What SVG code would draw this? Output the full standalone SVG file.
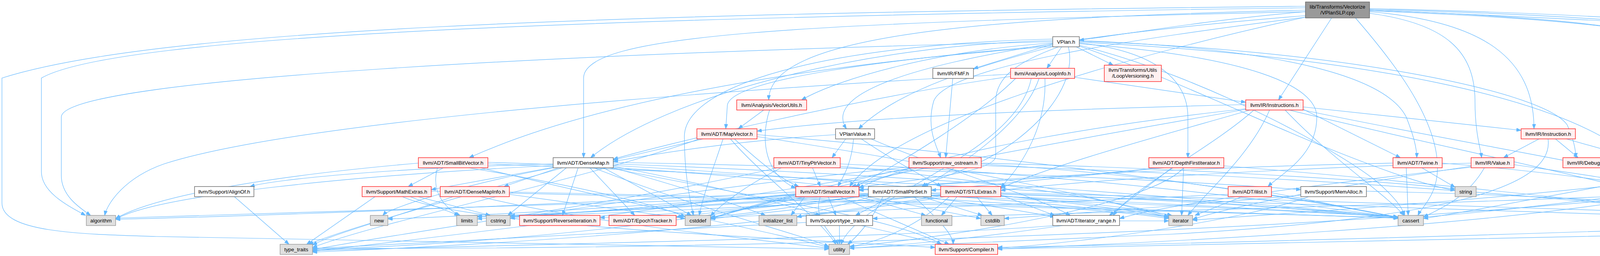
<svg xmlns="http://www.w3.org/2000/svg" width="5147" height="656" viewBox="0 0 5147 656">
<style>
.e path{fill:none;stroke:#63b8ff;stroke-width:1.2}
.n rect{stroke-width:1.4}
.r rect{fill:#fff0f0;stroke:#ff2020}
.w rect{fill:#ffffff;stroke:#666666}
.g rect{fill:#e0e0e0;stroke:#999999}
.k rect{fill:#999999;stroke:#666666}
.n text{font-family:"Liberation Sans",Arial,Helvetica,sans-serif;font-size:13.33px;fill:#000000;text-anchor:middle}
</style>
<defs>
<marker id="a" viewBox="0 0 12 9" refX="12" refY="4.5" markerWidth="12" markerHeight="9" markerUnits="userSpaceOnUse" orient="auto"><path d="M0,0 L12,4.5 L0,9 z" fill="#63b8ff" stroke="#63b8ff"/></marker>
</defs>
<rect width="5147" height="656" fill="#ffffff"/>
<g id="edges" class="e" marker-end="url(#a)">
<path d="M3342,30 C3100,50 2900,85 2763,103"/>
<path d="M3506,26 C4000,45 4600,80 4994,98"/>
<path d="M3409,46 L3273,256"/>
<path d="M3342,40 C2600,100 2080,200 2167,330"/>
<path d="M3342,30 C2000,60 1494,90 1494,200 L1494,404"/>
<path d="M3342,44 C2950,130 2300,300 2175,478"/>
<path d="M3342,26 C2500,45 1968,90 1968,256"/>
<path d="M3506,30 C3800,55 3927,150 3927,330"/>
<path d="M3506,34 C3700,60 3776,130 3776,260 C3776,340 3790,380 3793,404"/>
<path d="M3506,28 C4200,55 4529,100 4529,260 C4529,350 4538,385 4541,404"/>
<path d="M3506,26 C4300,55 4448,110 4448,260 L4448,400 C4448,440 4380,462 4345,478"/>
<path d="M3506,22 C4500,45 4955,100 4955,270 L4955,460 C4955,515 4850,540 4798,552"/>
<path d="M3506,24 C4400,48 4804,100 4804,270 L4804,460 C4804,515 4560,540 4488,552"/>
<path d="M3470,46 C3560,150 3680,300 3680,430 C3680,500 3640,530 3630,552"/>
<path d="M3342,44 C2900,100 2420,170 2390,260 C2370,330 2400,380 2408,404"/>
<path d="M3342,20 C1500,45 300,90 106,200 L106,440 C106,495 180,530 219,552"/>
<path d="M3342,16 C1500,35 400,75 5,200 L5,520 C5,595 200,600 400,606 C1200,625 1900,632 2122,638"/>
<path d="M2695,113 L2492,176"/>
<path d="M2718,120 L2680,175"/>
<path d="M2755,120 L2850,167"/>
<path d="M2700,118 C2500,170 2300,230 2198,330"/>
<path d="M2695,104 C2200,115 1700,250 1512,404"/>
<path d="M2763,110 C2950,130 3041,200 3041,300 L3041,404"/>
<path d="M2695,116 C2300,150 1870,200 1862,270 L1858,330"/>
<path d="M2695,119 C2000,170 1500,270 1201,404"/>
<path d="M2710,120 C2600,160 2549,200 2549,260 L2549,400 C2549,445 2300,465 2199,480"/>
<path d="M2735,120 C2760,220 2650,350 2500,420 C2420,455 2380,465 2360,478"/>
<path d="M2763,104 C3300,125 3550,200 3600,300 C3620,350 3627,380 3627,404"/>
<path d="M2763,112 C3200,145 3371,220 3371,300 C3371,400 3280,445 3246,478"/>
<path d="M2763,108 C3500,145 4000,250 4180,404"/>
<path d="M2763,106 C3400,125 3950,230 4012,320 C4030,360 4034,385 4034,404"/>
<path d="M2763,116 C3100,200 3450,400 3530,470 C3580,515 3590,535 3596,552"/>
<path d="M2695,100 C2100,115 1752,220 1752,350 C1752,460 1770,525 1775,552"/>
<path d="M2763,118 C3000,200 3200,300 3400,380 C3550,440 3650,475 3725,488"/>
<path d="M2695,110 C2400,130 2150,200 2052,256"/>
<path d="M2695,107 C1500,135 157,200 157,300 L157,450 C157,500 200,530 232,552"/>
<path d="M2751,198 L3189,262"/>
<path d="M2587,196 C2200,250 1700,370 1570,408"/>
<path d="M2660,201 C2620,320 2450,430 2364,478"/>
<path d="M2600,201 C2500,300 2300,420 2190,478"/>
<path d="M2675,201 C2680,320 2620,420 2562,480"/>
<path d="M2587,190 C1500,250 700,330 420,420 C320,455 275,520 268,552"/>
<path d="M2640,201 C2600,400 2200,500 2153,626"/>
<path d="M2439,201 L2421,404"/>
<path d="M1955,282 L1890,330"/>
<path d="M1970,282 C1945,360 1960,450 2037,482"/>
<path d="M3336,274 L3894,334"/>
<path d="M3189,268 C2700,280 2200,300 1938,336"/>
<path d="M3200,282 C3000,340 2700,420 2562,482"/>
<path d="M3195,278 C2900,310 2400,380 2199,482"/>
<path d="M3336,280 L3585,404"/>
<path d="M3210,282 C3100,380 2900,480 2850,552"/>
<path d="M3336,282 C3800,380 4400,470 4629,558"/>
<path d="M3290,282 C3400,400 3550,500 3594,552"/>
<path d="M3190,280 C2800,350 2200,450 1819,560"/>
<path d="M3250,282 C3200,400 3080,500 3041,552"/>
<path d="M3300,282 C3700,380 4300,500 4417,556"/>
<path d="M1800,356 L1570,410"/>
<path d="M1880,356 C1950,420 2000,460 2045,478"/>
<path d="M1938,345 C2600,400 3300,500 3579,558"/>
<path d="M1851,356 C1830,420 1800,500 1790,552"/>
<path d="M1938,350 C2400,420 2800,500 2992,558"/>
<path d="M1790,356 C1500,460 1000,560 800,634"/>
<path d="M1870,356 C1950,450 2100,560 2140,626"/>
<path d="M2139,345 C1900,360 1700,390 1570,414"/>
<path d="M2165,356 L2130,404"/>
<path d="M2185,356 C2180,420 2160,450 2145,478"/>
<path d="M2205,356 C2300,420 2380,460 2410,478"/>
<path d="M2230,356 C2400,430 2650,500 2740,552"/>
<path d="M3940,356 L3849,404"/>
<path d="M3982,356 L4040,404"/>
<path d="M4010,356 L4180,404"/>
<path d="M3963,356 C3980,480 3700,560 3000,600 C2600,620 2300,630 2175,636"/>
<path d="M1135,430 L1045,478"/>
<path d="M1249,416 C1800,430 2400,500 2700,556"/>
<path d="M1071,418 C700,450 400,500 296,560"/>
<path d="M1249,420 C2000,450 3000,500 3579,560"/>
<path d="M1200,430 C1500,480 1700,530 1754,556"/>
<path d="M1120,430 C1100,500 1150,540 1178,552"/>
<path d="M1230,430 C1600,520 2000,600 2122,634"/>
<path d="M1430,430 L1290,478"/>
<path d="M1510,430 L1625,552"/>
<path d="M1416,420 C1000,430 700,460 640,478"/>
<path d="M1560,430 C1900,500 2300,560 2410,626"/>
<path d="M1420,428 L1104,486"/>
<path d="M1570,416 C2300,430 3000,460 3330,486"/>
<path d="M1480,430 L1440,552"/>
<path d="M1570,426 C1800,470 2000,520 2100,552"/>
<path d="M1416,424 C900,450 400,500 296,562"/>
<path d="M1570,420 C2400,450 3200,520 3579,556"/>
<path d="M1545,430 L1770,552"/>
<path d="M1450,430 L1300,552"/>
<path d="M1570,430 C1750,480 1900,530 1960,552"/>
<path d="M1570,424 C2200,460 2800,520 2992,556"/>
<path d="M1416,430 C1200,470 1000,530 980,552"/>
<path d="M1440,430 C1200,500 900,580 790,626"/>
<path d="M1520,430 C1800,540 2050,600 2122,632"/>
<path d="M2080,430 L2100,478"/>
<path d="M2151,420 C2800,450 3300,520 3579,557"/>
<path d="M2000,430 C1900,480 1840,530 1819,554"/>
<path d="M2151,426 C2600,470 2900,520 2992,556"/>
<path d="M1990,430 C1600,520 1000,600 800,640"/>
<path d="M2350,430 L2180,478"/>
<path d="M2512,420 C3000,450 3400,520 3579,557"/>
<path d="M2330,430 C2100,480 1900,530 1819,562"/>
<path d="M2327,428 C1900,470 1500,530 1306,560"/>
<path d="M2512,424 C3500,460 4200,520 4417,561"/>
<path d="M2512,418 C3000,430 3500,460 3725,484"/>
<path d="M2340,430 C1800,530 1100,610 800,644"/>
<path d="M2980,430 L2384,488"/>
<path d="M2960,430 C2700,460 2400,470 2199,486"/>
<path d="M3000,430 L2840,552"/>
<path d="M3030,430 L3025,552"/>
<path d="M3133,425 C3700,470 4200,530 4417,553"/>
<path d="M3030,430 C2950,520 2500,600 2175,632"/>
<path d="M3566,418 C3000,430 2500,460 2199,488"/>
<path d="M3692,418 C4100,450 4500,520 4629,556"/>
<path d="M3600,430 L3605,552"/>
<path d="M3640,430 L3725,480"/>
<path d="M3766,418 C3300,430 2800,460 2562,488"/>
<path d="M3770,428 C3400,470 3000,520 2866,560"/>
<path d="M3876,422 C4000,440 4150,460 4220,478"/>
<path d="M3800,430 C3760,500 3700,530 3644,556"/>
<path d="M3766,426 C3400,480 3150,530 3053,562"/>
<path d="M4520,430 L4340,478"/>
<path d="M4601,420 C5000,500 4950,575 4700,592 C3800,612 2800,630 2554,638"/>
<path d="M4580,430 L4690,552"/>
<path d="M4495,418 C4200,450 3900,520 3644,560"/>
<path d="M4500,430 C4000,500 3400,540 3053,564"/>
<path d="M600,504 L740,626"/>
<path d="M1030,504 C1200,580 2000,610 2394,634"/>
<path d="M1104,490 C2000,510 3000,540 3579,558"/>
<path d="M1050,504 L1175,552"/>
<path d="M1070,504 L1255,552"/>
<path d="M960,504 L785,626"/>
<path d="M1304,492 C2200,510 3000,540 3579,559"/>
<path d="M1304,498 L1754,560"/>
<path d="M1160,504 C1000,560 850,600 800,628"/>
<path d="M1230,504 C1500,570 1900,610 2122,636"/>
<path d="M2150,504 L2430,626"/>
<path d="M2120,504 L2140,552"/>
<path d="M2037,492 C1500,520 800,550 296,562"/>
<path d="M2199,495 C2900,520 3400,545 3579,556"/>
<path d="M2037,500 L1819,558"/>
<path d="M2199,500 L2511,560"/>
<path d="M2037,496 C1800,520 1500,545 1306,556"/>
<path d="M2199,504 L2370,552"/>
<path d="M2060,504 L2025,552"/>
<path d="M2199,498 C2600,520 2900,545 2992,560"/>
<path d="M2037,498 C1700,530 1400,550 1222,561"/>
<path d="M2037,500 C1600,530 1200,555 993,561"/>
<path d="M2060,504 C1700,590 1100,630 800,640"/>
<path d="M2100,504 C2080,560 2130,600 2146,626"/>
<path d="M2223,500 C2000,530 1800,545 1731,556"/>
<path d="M2340,504 C2400,560 2440,600 2440,626"/>
<path d="M2223,502 C2000,530 1700,550 1536,558"/>
<path d="M2280,504 L2190,552"/>
<path d="M2384,496 C3000,520 3400,545 3579,556"/>
<path d="M2223,498 C2100,520 1950,545 1819,556"/>
<path d="M2360,504 L2515,552"/>
<path d="M2223,496 C1900,520 1500,545 1306,552"/>
<path d="M2230,504 L2040,556"/>
<path d="M2384,500 C2700,520 2900,545 2992,556"/>
<path d="M2223,500 C1800,530 1400,550 1222,554"/>
<path d="M2260,504 C2230,570 2190,610 2170,626"/>
<path d="M2562,500 L2700,552"/>
<path d="M2562,494 C3300,510 4200,540 4629,556"/>
<path d="M2408,494 C1600,520 800,545 296,559"/>
<path d="M2562,496 C3000,510 3400,540 3579,556"/>
<path d="M2408,498 C2200,520 1950,545 1819,561"/>
<path d="M2500,504 L2540,552"/>
<path d="M2450,504 L2410,552"/>
<path d="M2408,502 C2300,520 2150,540 2040,556"/>
<path d="M2562,502 C2800,520 2950,540 3000,552"/>
<path d="M2408,500 C2000,530 1500,550 1222,556"/>
<path d="M2562,498 C3300,520 4000,540 4417,559"/>
<path d="M2420,504 C1900,590 1200,630 800,646"/>
<path d="M2430,504 C2350,580 2250,620 2175,632"/>
<path d="M3255,494 C3400,520 3500,545 3579,556"/>
<path d="M3144,498 C2600,520 2100,545 1819,558"/>
<path d="M3180,504 L3059,552"/>
<path d="M3350,504 C3200,560 2800,620 2554,636"/>
<path d="M3498,490 C4000,500 4400,530 4629,556"/>
<path d="M3330,500 C3000,530 2700,550 2571,560"/>
<path d="M4230,504 C3800,580 3000,620 2554,638"/>
<path d="M4208,500 C3500,530 2600,550 2234,560"/>
<path d="M4208,496 C4000,520 3800,545 3644,556"/>
<path d="M4310,504 L4420,552"/>
<path d="M4220,504 C3000,620 1500,640 800,636"/>
<path d="M2205,578 L2412,626"/>
<path d="M2064,570 C1500,600 1000,630 800,637"/>
<path d="M2149,578 L2149,626"/>
<path d="M2700,578 C2300,610 1200,630 800,642"/>
<path d="M2720,578 C2500,610 2300,630 2175,636"/>
<path d="M2866,566 L2992,566"/>
<path d="M4629,572 C4000,600 3000,625 2554,634"/>
</g>
<g id="n_root" class="n k"><rect x="3342" y="5" width="164" height="41"/><text x="3424" y="22">lib/Transforms/Vectorize</text><text x="3424" y="37">/VPlanSLP.cpp</text></g>
<g id="n_vplan" class="n w"><rect x="2695" y="94" width="68" height="26"/><text x="2729" y="111.5">VPlan.h</text></g>
<g id="n_debug" class="n w"><rect x="4994" y="94" width="147" height="26"/><text x="5067.5" y="111.5">llvm/Support/Debug.h</text></g>
<g id="n_fmf" class="n w"><rect x="2388" y="175" width="104" height="26"/><text x="2440" y="192.5">llvm/IR/FMF.h</text></g>
<g id="n_loopinfo" class="n r"><rect x="2587" y="175" width="164" height="26"/><text x="2669" y="192.5">llvm/Analysis/LoopInfo.h</text></g>
<g id="n_loopversioning" class="n r"><rect x="2827" y="167" width="146" height="42"/><text x="2900" y="184">llvm/Transforms/Utils</text><text x="2900" y="199">/LoopVersioning.h</text></g>
<g id="n_vectorutils" class="n r"><rect x="1886" y="256" width="179" height="26"/><text x="1975.5" y="273.5">llvm/Analysis/VectorUtils.h</text></g>
<g id="n_instructions" class="n r"><rect x="3189" y="256" width="147" height="26"/><text x="3262.5" y="273.5">llvm/IR/Instructions.h</text></g>
<g id="n_mapvector" class="n r"><rect x="1784" y="330" width="154" height="26"/><text x="1861" y="347.5">llvm/ADT/MapVector.h</text></g>
<g id="n_vplanvalue" class="n w"><rect x="2139" y="330" width="100" height="26"/><text x="2189" y="347.5">VPlanValue.h</text></g>
<g id="n_instruction" class="n r"><rect x="3894" y="330" width="139" height="26"/><text x="3963.5" y="347.5">llvm/IR/Instruction.h</text></g>
<g id="n_smallbitvector" class="n r"><rect x="1071" y="404" width="178" height="26"/><text x="1160" y="421.5">llvm/ADT/SmallBitVector.h</text></g>
<g id="n_densemap" class="n w"><rect x="1416" y="404" width="154" height="26"/><text x="1493" y="421.5">llvm/ADT/DenseMap.h</text></g>
<g id="n_tinyptrvector" class="n r"><rect x="1981" y="404" width="170" height="26"/><text x="2066" y="421.5">llvm/ADT/TinyPtrVector.h</text></g>
<g id="n_raw_ostream" class="n r"><rect x="2327" y="404" width="185" height="26"/><text x="2419.5" y="421.5">llvm/Support/raw_ostream.h</text></g>
<g id="n_depthfirstiterator" class="n r"><rect x="2941" y="404" width="192" height="26"/><text x="3037" y="421.5">llvm/ADT/DepthFirstIterator.h</text></g>
<g id="n_twine" class="n r"><rect x="3566" y="404" width="126" height="26"/><text x="3629" y="421.5">llvm/ADT/Twine.h</text></g>
<g id="n_value" class="n r"><rect x="3766" y="404" width="110" height="26"/><text x="3821" y="421.5">llvm/IR/Value.h</text></g>
<g id="n_debugloc" class="n r"><rect x="4001" y="404" width="138" height="26"/><text x="4070" y="421.5">llvm/IR/DebugLoc.h</text></g>
<g id="n_ilist_node" class="n r"><rect x="4162" y="404" width="147" height="26"/><text x="4235.5" y="421.5">llvm/ADT/ilist_node.h</text></g>
<g id="n_type" class="n r"><rect x="4495" y="404" width="106" height="26"/><text x="4548" y="421.5">llvm/IR/Type.h</text></g>
<g id="n_alignof" class="n w"><rect x="498" y="478" width="152" height="26"/><text x="574" y="495.5">llvm/Support/AlignOf.h</text></g>
<g id="n_mathextras" class="n r"><rect x="927" y="478" width="177" height="26"/><text x="1015.5" y="495.5">llvm/Support/MathExtras.h</text></g>
<g id="n_densemapinfo" class="n r"><rect x="1127" y="478" width="177" height="26"/><text x="1215.5" y="495.5">llvm/ADT/DenseMapInfo.h</text></g>
<g id="n_smallvector" class="n r"><rect x="2037" y="478" width="162" height="26"/><text x="2118" y="495.5">llvm/ADT/SmallVector.h</text></g>
<g id="n_smallptrset" class="n w"><rect x="2223" y="478" width="161" height="26"/><text x="2303.5" y="495.5">llvm/ADT/SmallPtrSet.h</text></g>
<g id="n_stlextras" class="n r"><rect x="2408" y="478" width="154" height="26"/><text x="2485" y="495.5">llvm/ADT/STLExtras.h</text></g>
<g id="n_ilist" class="n r"><rect x="3144" y="478" width="111" height="26"/><text x="3199.5" y="495.5">llvm/ADT/ilist.h</text></g>
<g id="n_memalloc" class="n w"><rect x="3330" y="478" width="168" height="26"/><text x="3414" y="495.5">llvm/Support/MemAlloc.h</text></g>
<g id="n_string" class="n g"><rect x="3725" y="478" width="54" height="26"/><text x="3752" y="495.5">string</text></g>
<g id="n_casting" class="n r"><rect x="4208" y="478" width="154" height="26"/><text x="4285" y="495.5">llvm/Support/Casting.h</text></g>
<g id="n_algorithm" class="n g"><rect x="221" y="552" width="75" height="26"/><text x="258.5" y="569.5">algorithm</text></g>
<g id="n_new" class="n g"><rect x="948" y="552" width="45" height="26"/><text x="970.5" y="569.5">new</text></g>
<g id="n_limits" class="n g"><rect x="1169" y="552" width="53" height="26"/><text x="1195.5" y="569.5">limits</text></g>
<g id="n_cstring" class="n g"><rect x="1245" y="552" width="61" height="26"/><text x="1275.5" y="569.5">cstring</text></g>
<g id="n_reverseiteration" class="n r"><rect x="1330" y="552" width="206" height="26"/><text x="1433" y="569.5">llvm/Support/ReverseIteration.h</text></g>
<g id="n_epochtracker" class="n r"><rect x="1559" y="552" width="172" height="26"/><text x="1645" y="569.5">llvm/ADT/EpochTracker.h</text></g>
<g id="n_cstddef" class="n g"><rect x="1754" y="552" width="65" height="26"/><text x="1786.5" y="569.5">cstddef</text></g>
<g id="n_initializer_list" class="n g"><rect x="1943" y="552" width="97" height="26"/><text x="1991.5" y="569.5">initializer_list</text></g>
<g id="n_support_type_traits" class="n w"><rect x="2064" y="552" width="170" height="26"/><text x="2149" y="569.5">llvm/Support/type_traits.h</text></g>
<g id="n_functional" class="n g"><rect x="2359" y="552" width="78" height="26"/><text x="2398" y="569.5">functional</text></g>
<g id="n_cstdlib" class="n g"><rect x="2511" y="552" width="60" height="26"/><text x="2541" y="569.5">cstdlib</text></g>
<g id="n_iterator_range" class="n w"><rect x="2695" y="552" width="171" height="26"/><text x="2780.5" y="569.5">llvm/ADT/iterator_range.h</text></g>
<g id="n_iterator" class="n g"><rect x="2992" y="552" width="61" height="26"/><text x="3022.5" y="569.5">iterator</text></g>
<g id="n_cassert" class="n g"><rect x="3579" y="552" width="65" height="26"/><text x="3611.5" y="569.5">cassert</text></g>
<g id="n_optional" class="n g"><rect x="4417" y="552" width="67" height="26"/><text x="4450.5" y="569.5">optional</text></g>
<g id="n_errorhandling" class="n w"><rect x="4629" y="552" width="189" height="26"/><text x="4723.5" y="569.5">llvm/Support/ErrorHandling.h</text></g>
<g id="n_type_traits" class="n g"><rect x="717" y="626" width="83" height="26"/><text x="758.5" y="643.5">type_traits</text></g>
<g id="n_utility" class="n g"><rect x="2122" y="626" width="53" height="26"/><text x="2148.5" y="643.5">utility</text></g>
<g id="n_compiler" class="n r"><rect x="2394" y="626" width="160" height="26"/><text x="2474" y="643.5">llvm/Support/Compiler.h</text></g>
</svg>
